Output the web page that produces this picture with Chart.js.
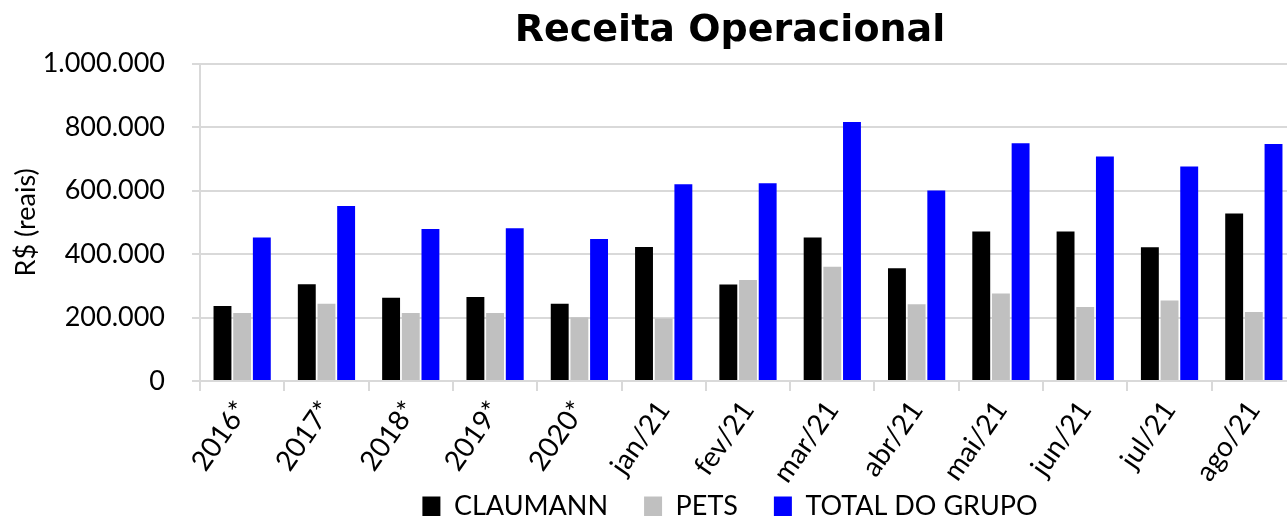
<!DOCTYPE html>
<html>
<head>
  <title>Receita Operacional</title>
  <script src="https://cdn.jsdelivr.net/npm/chart.js"></script>
  <style>
    html, body { margin: 0; padding: 0; background: #fff; overflow: hidden; }
    #wrap { width: 1287px; height: 516px; overflow: hidden; }
  </style>
</head>
<body>
  <div id="wrap">
    <canvas id="chart" width="1460" height="516"></canvas>
  </div>

  <script>
    // categories and series values (R$)
    const categories = ['2016*', '2017*', '2018*', '2019*', '2020*', 'jan/21', 'fev/21', 'mar/21', 'abr/21', 'mai/21', 'jun/21', 'jul/21', 'ago/21'];
    const claumann = [236000, 305000, 262000, 265000, 243000, 422000, 304000, 452000, 355000, 471000, 471000, 421000, 528000];
    const pets = [214000, 243000, 214000, 214000, 201000, 197000, 318000, 360000, 242000, 276000, 233000, 254000, 217000];
    const totalGrupo = [452000, 551000, 479000, 481000, 447000, 620000, 623000, 816000, 600000, 749000, 707000, 676000, 747000];

    const font = 'Lato';

    // 1000000 -> 1.000.000
    function fmt(v) {
      return String(v).replace(/\B(?=(\d{3})+(?!\d))/g, '.');
    }

    // x axis box is squeezed (afterFit) so the legend can sit close;
    // let its labels draw down to the canvas edge instead of being clipped
    const unclipLabels = {
      id: 'unclipLabels',
      afterLayout(chart) {
        chart.scales.x.bottom = chart.height;
      }
    };

    new Chart(document.getElementById('chart'), {
      type: 'bar',
      data: {
        labels: categories,
        datasets: [
          { label: 'CLAUMANN', data: claumann, backgroundColor: '#000000' },
          { label: 'PETS', data: pets, backgroundColor: '#c0c0c0' },
          { label: 'TOTAL DO GRUPO', data: totalGrupo, backgroundColor: '#0000ff' }
        ]
      },
      plugins: [unclipLabels],
      options: {
        responsive: false,
        animation: false,
        layout: { padding: { left: 10, right: 10, top: 2, bottom: -14 } },
        datasets: {
          bar: { categoryPercentage: 0.70, barPercentage: 0.91 }
        },
        plugins: {
          title: {
            display: true,
            text: 'Receita Operacional',
            color: '#000',
            font: { family: 'DejaVu Sans', size: 38, weight: 'bold' },
            padding: { top: 6, bottom: 10 }
          },
          legend: {
            position: 'bottom',
            labels: {
              color: '#000',
              font: { family: font, size: 27 },
              boxWidth: 18,
              boxHeight: 20,
              padding: 36
            }
          },
          tooltip: { enabled: false }
        },
        scales: {
          x: {
            grid: { drawOnChartArea: false, color: '#d9d9d9', lineWidth: 2, tickLength: 10 },
            border: { color: '#d9d9d9', width: 2 },
            ticks: {
              color: '#000',
              font: { family: font, size: 28 },
              minRotation: 55,
              maxRotation: 55,
              padding: 4
            },
            afterFit: s => { s.height = 76; }
          },
          y: {
            min: 0,
            max: 1000000,
            grid: { color: '#d9d9d9', lineWidth: 2, tickLength: 8 },
            border: { color: '#d9d9d9', width: 2 },
            ticks: {
              stepSize: 200000,
              color: '#000',
              font: { family: font, size: 27 },
              padding: 27,
              callback: v => fmt(v)
            },
            title: {
              display: true,
              text: 'R$ (reais)',
              color: '#000',
              font: { family: font, size: 27 },
              padding: { top: 0, bottom: 2 }
            },
            afterFit: s => { s.width = 190; }
          },
          // empty right-hand space so title and legend sit where the reference has them
          pad: {
            type: 'linear',
            position: 'right',
            grid: { display: false },
            border: { display: false },
            ticks: { display: false },
            afterFit: s => { s.width = 154; }
          }
        }
      }
    });
  </script>
</body>
</html>
